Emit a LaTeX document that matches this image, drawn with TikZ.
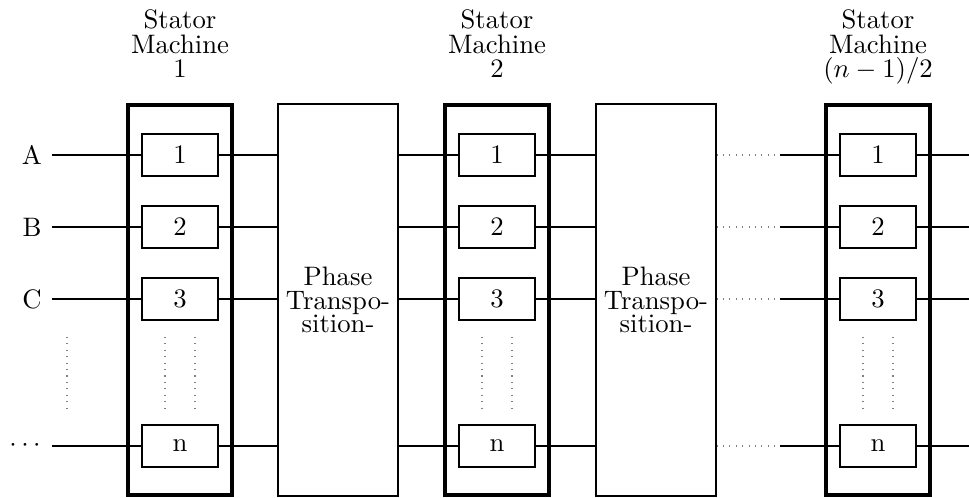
\documentclass[tikz,border=0pt]{standalone}
\begin{document}
\begin{tikzpicture}[x=0.3745pt,y=-0.3745pt,
  mach/.style={draw, line width=1.2pt, minimum width=104*0.3745pt, minimum height=390*0.3745pt, inner sep=0pt},
  cell/.style={draw, line width=0.4pt, minimum width=76*0.3745pt, minimum height=42*0.3745pt, inner sep=0pt},
  phase/.style={draw, line width=0.4pt, minimum width=120*0.3745pt, minimum height=392*0.3745pt, align=center, inner sep=0pt, font=\fontsize{10pt}{8.8pt}\selectfont},
  head/.style={align=center, anchor=north, inner sep=0pt, font=\fontsize{10pt}{9.2pt}\selectfont},
  lbl/.style={inner sep=0pt},
  wire/.style={line width=0.4pt},
  dotw/.style={gray, dotted, line width=0.4pt},
]
\useasboundingbox (0,0) rectangle (969,497);

% stator machines
\foreach \m/\x in {1/180,2/497,3/878} {
  \node[mach] (m\m) at (\x,300) {};
  \node[cell] (m\m-1) at (\x,155) {1};
  \node[cell] (m\m-2) at (\x,227) {2};
  \node[cell] (m\m-3) at (\x,299) {3};
  \node[cell] (m\m-n) at (\x,446) {n};
  \coordinate (m\m-ua) at ([xshift=-15*0.3745pt]\x,337);
  \coordinate (m\m-ub) at ([xshift=-15*0.3745pt]\x,409);
  \coordinate (m\m-va) at ([xshift=15*0.3745pt]\x,337);
  \coordinate (m\m-vb) at ([xshift=15*0.3745pt]\x,409);
  \draw[dotw] (m\m-ua) -- (m\m-ub);
  \draw[dotw] (m\m-va) -- (m\m-vb);
}

% headers
\node[head] (h1) at (180,9.2) {Stator\\Machine\\1};
\node[head] (h2) at (497,9.2) {Stator\\Machine\\2};
\node[head] (h3) at (878,9.2) {Stator\\Machine\\$(n-1)/2$};

% phase transposition boxes
\node[phase] (p1) at (338,300) {Phase\\Transpo-\\sition-};
\node[phase] (p2) at (656,300) {Phase\\Transpo-\\sition-};

% row labels
\node[lbl] (lA) at (32,155) {A};
\node[lbl] (lB) at (32,227) {B};
\node[lbl] (lC) at (32,299) {C};
\node[lbl] (ln) at (25,446) {$\cdots$};
\coordinate (ld1) at (67,337);
\coordinate (ld2) at (67,409);
\draw[dotw] (ld1) -- (ld2);

% wires
\foreach \r/\y in {1/155,2/227,3/299,n/446} {
  \coordinate (s\r) at (52,\y);
  \coordinate (q\r) at (780,\y);
  \coordinate (e\r) at (969,\y);
  \draw[wire] (s\r) -- (m1-\r.west);
  \draw[wire] (m1-\r.east) -- (m1-\r.east -| p1.west);
  \draw[wire] (p1.east |- m2-\r) -- (m2-\r.west);
  \draw[wire] (m2-\r.east) -- (m2-\r.east -| p2.west);
  \draw[dotw] (p2.east |- m3-\r) -- (q\r);
  \draw[wire] (q\r) -- (m3-\r.west);
  \draw[wire] (m3-\r.east) -- (e\r);
}
\end{tikzpicture}
\end{document}
